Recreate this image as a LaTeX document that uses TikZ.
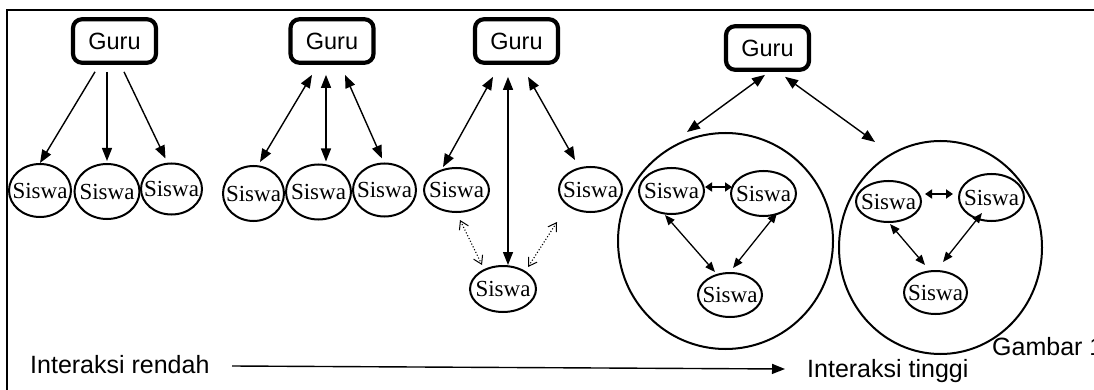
\documentclass[tikz,border=0pt]{standalone}
\usepackage{fontspec}
\setmainfont{Liberation Serif}
\newfontfamily\arialf{Liberation Sans}
\usetikzlibrary{arrows.meta,calc,shapes.geometric}
\begin{document}
\begin{tikzpicture}[x=1pt,y=-1pt,
  gurubox/.style={draw,line width=4.2pt,rounded corners=9pt,minimum width=83pt,minimum height=43.5pt,inner sep=0pt,font=\arialf\fontsize{23.5}{27}\selectfont},
  siswa/.style={draw,ellipse,line width=2pt,inner xsep=-12pt,inner ysep=-2pt,font=\fontsize{23}{27}\selectfont},
  grp/.style={draw,ellipse,line width=2pt,inner sep=0pt},
  one/.style={line width=1.4pt,-{Triangle[length=13pt,width=10pt]}},
  two/.style={line width=1.4pt,{Triangle[length=13pt,width=10pt]}-{Triangle[length=13pt,width=10pt]}},
  twos/.style={line width=1.3pt,{Triangle[length=10pt,width=8pt]}-{Triangle[length=10pt,width=8pt]}},
  twoh/.style={line width=2.6pt,{Triangle[length=7pt,width=9pt]}-{Triangle[length=7pt,width=9pt]}},
  dots/.style={line width=1.1pt,dotted,{Straight Barb[length=8pt,width=10pt,line width=1pt]}-{Straight Barb[length=8pt,width=10pt,line width=1pt]}},
  lbl/.style={font=\arialf\fontsize{25}{30}\selectfont,inner sep=0pt,anchor=base west}
]
\useasboundingbox (0,0) rectangle (1094,390);
% frame
\draw[line width=2pt] (7,390) -- (7,10) -- (1094,10);

% group 1
\node[gurubox] (g1) at (114.5,41) {Guru};
\node[siswa,minimum width=62pt,minimum height=53pt] (s11) at (40,190.5) {Siswa};
\node[siswa,minimum width=65pt,minimum height=55pt] (s12) at (107,191.5) {Siswa};
\node[siswa,minimum width=61pt,minimum height=51pt] (s13) at (171.5,189) {Siswa};
\draw[one] ([xshift=-19.5pt,yshift=-7pt]g1.south) -- (s11.north);
\draw[one] ([xshift=-7.5pt,yshift=-7pt]g1.south) -- ([yshift=2pt]s12.north);
\draw[one] ([xshift=9.5pt,yshift=-7pt]g1.south) -- ([xshift=-6pt,yshift=4pt]s13.north);

% group 2
\node[gurubox] (g2) at (332,41) {Guru};
\node[siswa,minimum width=61pt,minimum height=55pt] (s21) at (253.5,193.5) {Siswa};
\node[siswa,minimum width=65pt,minimum height=55pt] (s22) at (318.5,192) {Siswa};
\node[siswa,minimum width=63pt,minimum height=53pt] (s23) at (384.5,190) {Siswa};
\draw[two] ([xshift=-20pt,yshift=-10pt]g2.south) -- ([xshift=6.5pt,yshift=3pt]s21.north);
\draw[two] ([xshift=-6pt,yshift=-10pt]g2.south) -- ([xshift=7.5pt,yshift=2pt]s22.north);
\draw[two] ([xshift=13pt,yshift=-10pt]g2.south) -- ([xshift=-2.5pt,yshift=4pt]s23.north);

% group 3
\node[gurubox] (g3) at (516.5,41) {Guru};
\node[siswa,minimum width=65pt,minimum height=44pt] (s31) at (456.5,190) {Siswa};
\node[siswa,minimum width=63pt,minimum height=45pt] (s32) at (590.5,189.5) {Siswa};
\node[siswa,minimum width=66pt,minimum height=46pt] (s33) at (503,289) {Siswa};
\draw[two] ([xshift=-23.5pt,yshift=-12pt]g3.south) -- ([xshift=-13.5pt]s31.north);
\draw[two] ([xshift=-8.5pt,yshift=-12pt]g3.south) -- ([xshift=5pt]s33.north);
\draw[two] ([xshift=11.5pt,yshift=-12pt]g3.south) -- ([xshift=-15.5pt,yshift=6pt]s32.north);
\draw[dots] ([xshift=3.5pt,yshift=-7pt]s31.south) -- ([xshift=-21pt]s33.north);
\draw[dots] ([xshift=-33.5pt,yshift=-9pt]s32.south) -- ([xshift=25pt,yshift=-2pt]s33.north);

% group 4
\node[gurubox] (g4) at (767.5,48) {Guru};
\node[grp,minimum width=215pt,minimum height=216pt] (c1) at (725.5,241) {};
\node[grp,minimum width=203pt,minimum height=213pt] (c2) at (940.5,247.5) {};
\draw[two] ([xshift=-2.5pt,yshift=-3pt]g4.south) -- ([xshift=-38.5pt]c1.north);
\draw[two] ([xshift=17.5pt,yshift=-5pt]g4.south) -- ([xshift=-65.5pt,yshift=-2pt]c2.north);

\node[siswa,minimum width=65pt,minimum height=46pt] (s41) at (671.5,191) {Siswa};
\node[siswa,minimum width=65pt,minimum height=45pt] (s42) at (763.5,193.5) {Siswa};
\node[siswa,minimum width=64pt,minimum height=44pt] (s43) at (730,295) {Siswa};
\draw[twoh] ([yshift=4pt]s41.east) -- ([xshift=2pt,yshift=6.5pt]s42.west);
\draw[twos] ([xshift=-6.5pt]s41.south) -- ([xshift=-15pt]s43.north);
\draw[twos] ([xshift=13.5pt,yshift=4pt]s42.south) -- ([xshift=3pt,yshift=4pt]s43.north);

\node[siswa,minimum width=65pt,minimum height=41pt] (s51) at (888.5,201.5) {Siswa};
\node[siswa,minimum width=65pt,minimum height=47pt] (s52) at (991.5,197.5) {Siswa};
\node[siswa,minimum width=63pt,minimum height=43pt] (s53) at (935.5,292.5) {Siswa};
\draw[twoh] ([xshift=3pt,yshift=7.5pt]s51.east) -- ([xshift=-5pt,yshift=3.5pt]s52.west);
\draw[twos] ([xshift=1.5pt,yshift=-1pt]s51.south) -- ([xshift=-10.5pt,yshift=5pt]s53.north);
\draw[twos] ([xshift=-9.5pt,yshift=9pt]s52.south) -- ([xshift=7.5pt,yshift=8pt]s53.north);

% bottom
\coordinate (b1) at (232,366);
\coordinate (b2) at (785,369);
\draw[one] (b1) -- (b2);
\node[lbl] (lo) at (30,373) {Interaksi rendah};
\node[lbl] (hi) at (807,377) {Interaksi tinggi};
\node[lbl] (gb) at (992,355) {Gambar 1};
\end{tikzpicture}
\end{document}
